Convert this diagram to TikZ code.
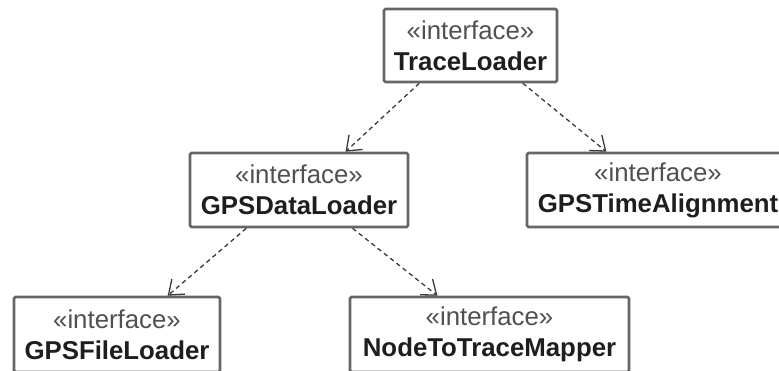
\documentclass[tikz,border=0pt]{standalone}
\usepackage{fontspec}
\setmainfont{Liberation Sans}
\usetikzlibrary{arrows.meta,calc}
\definecolor{boxline}{HTML}{666666}
\definecolor{stereo}{HTML}{505050}
\definecolor{nametext}{HTML}{1E1E1E}
\definecolor{depline}{HTML}{3A3A3A}
\tikzset{
  iface/.style={draw=boxline, line width=2.6pt, fill=white, rounded corners=1.5pt,
    inner sep=0pt, align=center, text=nametext,
    font=\fontsize{25.8}{31}\selectfont},
  dep/.style={draw=depline, line width=1.3pt, dash pattern=on 4.5pt off 3.5pt,
    -{Straight Barb[length=13pt,width=20pt,line width=1.3pt]}},
}
\newcommand{\ifacelabel}[1]{{\color{stereo}«interface»}\\{\bfseries #1}}
\begin{document}
\begin{tikzpicture}[x=1pt,y=-1pt]
\useasboundingbox (0,0) rectangle (779,371);
% interface boxes
\node[iface, minimum width=173pt, minimum height=73pt] (tl) at (470.5,45.5) {\ifacelabel{TraceLoader}};
\node[iface, minimum width=218pt, minimum height=74pt] (gdl) at (299,190) {\ifacelabel{GPSDataLoader}};
\node[iface, minimum width=262pt, minimum height=74pt] (gta) at (658,190) {\ifacelabel{GPSTimeAlignment}};
\node[iface, minimum width=206pt, minimum height=75pt] (gfl) at (117,334.5) {\ifacelabel{GPSFileLoader}};
\node[iface, minimum width=279pt, minimum height=75pt] (ntm) at (489.5,334.5) {\ifacelabel{NodeToTraceMapper}};
% dependency arrows
\draw[dep] ($(tl.south west)!0.208!(tl.south east)$) -- ($(gdl.north west)!0.711!(gdl.north east)$);
\draw[dep] ($(tl.south west)!0.798!(tl.south east)$) -- ($(gta.north west)!0.305!(gta.north east)$);
\draw[dep] ($(gdl.south west)!0.261!(gdl.south east)$) -- ($(gfl.north west)!0.743!(gfl.north east)$);
\draw[dep] ($(gdl.south west)!0.743!(gdl.south east)$) -- ($(ntm.north west)!0.315!(ntm.north east)$);
\end{tikzpicture}
\end{document}
